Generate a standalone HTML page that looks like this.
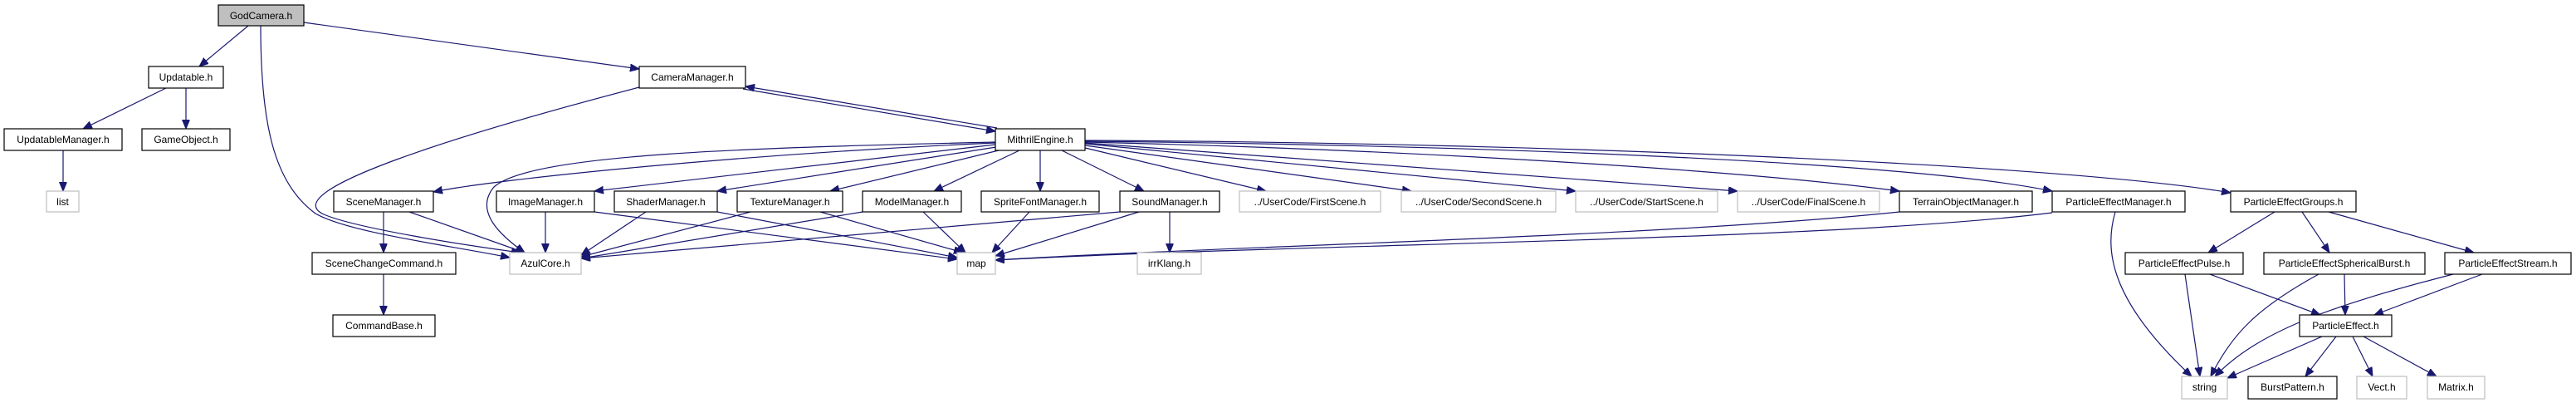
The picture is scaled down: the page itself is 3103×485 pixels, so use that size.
<!DOCTYPE html>
<html><head><meta charset="utf-8"><style>
html,body{margin:0;padding:0;background:#fff;}
svg{display:block;}
text{font-family:"Liberation Sans",Arial,sans-serif;font-size:12px;fill:#000;}
.n{fill:#fff;stroke:#000;stroke-width:1.2;}
.g{fill:#fff;stroke:#bfbfbf;stroke-width:1.2;}
.r{fill:#bfbfbf;stroke:#000;stroke-width:1.2;}
.e{fill:none;stroke:#191970;stroke-width:1.2;marker-end:url(#a);}
</style></head><body>
<svg width="3103" height="485" viewBox="0 0 3103 485" xmlns="http://www.w3.org/2000/svg">
<defs><marker id="a" markerUnits="userSpaceOnUse" markerWidth="12" markerHeight="10" refX="11" refY="4.5" orient="auto"><path d="M0,0 L11,4.5 L0,9 z" fill="#191970" stroke="#191970"/></marker></defs>

<!-- edges -->
<path class="e" d="M299,31 L240,80"/>
<path class="e" d="M314,31 C314,150 330,220 380,257 C420,280 540,295 614,310"/>
<path class="e" d="M366,27 L770,83"/>
<path class="e" d="M200,106 L100,155"/>
<path class="e" d="M224,106 L224,155"/>
<path class="e" d="M76,181 L76,230"/>
<path class="e" d="M770,105 C560,160 330,230 390,258 C430,275 560,295 627,304"/>
<path class="e" d="M895,107 L1199,158"/>
<path class="e" d="M1201,154 L898,104"/>
<path class="e" d="M1199,172 C900,185 600,215 522,231"/>
<path class="e" d="M1199,171 C900,178 640,185 595,225 C570,255 605,285 632,304"/>
<path class="e" d="M1199,174 L716,230"/>
<path class="e" d="M1200,177 L864,230"/>
<path class="e" d="M1203,181 L1000,230"/>
<path class="e" d="M1228,181 L1125,230"/>
<path class="e" d="M1253,181 L1253,230"/>
<path class="e" d="M1279,181 L1378,230"/>
<path class="e" d="M1307,178 L1525,230"/>
<path class="e" d="M1307,175 L1700,230"/>
<path class="e" d="M1307,173 L1898,230"/>
<path class="e" d="M1307,172 L2093,230"/>
<path class="e" d="M1307,171 C1700,180 2100,205 2288,230"/>
<path class="e" d="M1307,170 C1800,175 2300,195 2472,230"/>
<path class="e" d="M1307,169 C1900,172 2500,200 2687,232"/>
<path class="e" d="M2288,255 C2000,285 1500,295 1199,313"/>
<path class="e" d="M2472,256 C2200,290 1600,292 1199,313"/>
<path class="e" d="M462,255 L462,304"/>
<path class="e" d="M493,255 L632,304"/>
<path class="e" d="M462,330 L462,379"/>
<path class="e" d="M657,255 L657,304"/>
<path class="e" d="M716,255 L1153,312"/>
<path class="e" d="M778,255 L700,307"/>
<path class="e" d="M864,255 L1153,310"/>
<path class="e" d="M904,255 L700,309"/>
<path class="e" d="M988,255 L1160,304"/>
<path class="e" d="M1039,255 L700,311"/>
<path class="e" d="M1112,255 L1163,304"/>
<path class="e" d="M1240,255 L1195,304"/>
<path class="e" d="M1372,255 L1199,308"/>
<path class="e" d="M1409,255 L1409,304"/>
<path class="e" d="M1349,255 L700,311"/>
<path class="e" d="M2548,255 C2535,300 2540,360 2640,453"/>
<path class="e" d="M2740,255 L2660,304"/>
<path class="e" d="M2773,255 L2806,304"/>
<path class="e" d="M2805,255 L2980,304"/>
<path class="e" d="M2632,330 L2650,453"/>
<path class="e" d="M2662,330 L2795,379"/>
<path class="e" d="M2793,330 C2720,370 2690,400 2663,453"/>
<path class="e" d="M2824,330 L2825,379"/>
<path class="e" d="M2955,330 C2800,370 2720,400 2668,453"/>
<path class="e" d="M2990,330 L2860,379"/>
<path class="e" d="M2797,405 L2683,455"/>
<path class="e" d="M2814,405 L2777,453"/>
<path class="e" d="M2834,405 L2858,453"/>
<path class="e" d="M2847,405 L2935,453"/>

<!-- nodes -->
<g>
<rect class="r" x="263" y="6" width="103" height="25"/><text x="314.5" y="23" text-anchor="middle">GodCamera.h</text>
<rect class="n" x="179" y="80" width="90" height="26"/><text x="224" y="97" text-anchor="middle">Updatable.h</text>
<rect class="n" x="5" y="155" width="142" height="26"/><text x="76" y="172" text-anchor="middle">UpdatableManager.h</text>
<rect class="n" x="171" y="155" width="106" height="26"/><text x="224" y="172" text-anchor="middle">GameObject.h</text>
<rect class="g" x="56" y="230" width="39" height="25"/><text x="75.5" y="247" text-anchor="middle">list</text>
<rect class="n" x="770" y="80" width="128" height="26"/><text x="834" y="97" text-anchor="middle">CameraManager.h</text>
<rect class="n" x="1199" y="155" width="108" height="26"/><text x="1253" y="172" text-anchor="middle">MithrilEngine.h</text>
<rect class="n" x="402" y="230" width="120" height="25"/><text x="462" y="247" text-anchor="middle">SceneManager.h</text>
<rect class="n" x="598" y="230" width="118" height="25"/><text x="657" y="247" text-anchor="middle">ImageManager.h</text>
<rect class="n" x="740" y="230" width="124" height="25"/><text x="802" y="247" text-anchor="middle">ShaderManager.h</text>
<rect class="n" x="888" y="230" width="127" height="25"/><text x="951.5" y="247" text-anchor="middle">TextureManager.h</text>
<rect class="n" x="1039" y="230" width="119" height="25"/><text x="1098.5" y="247" text-anchor="middle">ModelManager.h</text>
<rect class="n" x="1182" y="230" width="142" height="25"/><text x="1253" y="247" text-anchor="middle">SpriteFontManager.h</text>
<rect class="n" x="1349" y="230" width="120" height="25"/><text x="1409" y="247" text-anchor="middle">SoundManager.h</text>
<rect class="g" x="1493" y="230" width="170" height="25"/><text x="1578" y="247" text-anchor="middle">../UserCode/FirstScene.h</text>
<rect class="g" x="1688" y="230" width="186" height="25"/><text x="1781" y="247" text-anchor="middle">../UserCode/SecondScene.h</text>
<rect class="g" x="1898" y="230" width="171" height="25"/><text x="1983.5" y="247" text-anchor="middle">../UserCode/StartScene.h</text>
<rect class="g" x="2093" y="230" width="171" height="25"/><text x="2178.5" y="247" text-anchor="middle">../UserCode/FinalScene.h</text>
<rect class="n" x="2288" y="230" width="160" height="25"/><text x="2368" y="247" text-anchor="middle">TerrainObjectManager.h</text>
<rect class="n" x="2472" y="230" width="160" height="25"/><text x="2552" y="247" text-anchor="middle">ParticleEffectManager.h</text>
<rect class="n" x="2687" y="230" width="151" height="25"/><text x="2762.5" y="247" text-anchor="middle">ParticleEffectGroups.h</text>
<rect class="n" x="376" y="304" width="173" height="26"/><text x="462.5" y="321" text-anchor="middle">SceneChangeCommand.h</text>
<rect class="g" x="614" y="304" width="86" height="26"/><text x="657" y="321" text-anchor="middle">AzulCore.h</text>
<rect class="g" x="1153" y="304" width="46" height="26"/><text x="1176" y="321" text-anchor="middle">map</text>
<rect class="g" x="1370" y="304" width="77" height="26"/><text x="1408.5" y="321" text-anchor="middle">irrKlang.h</text>
<rect class="n" x="2560" y="304" width="142" height="26"/><text x="2631" y="321" text-anchor="middle">ParticleEffectPulse.h</text>
<rect class="n" x="2727" y="304" width="194" height="26"/><text x="2824" y="321" text-anchor="middle">ParticleEffectSphericalBurst.h</text>
<rect class="n" x="2945" y="304" width="152" height="26"/><text x="3021" y="321" text-anchor="middle">ParticleEffectStream.h</text>
<rect class="n" x="401" y="379" width="123" height="26"/><text x="462.5" y="396" text-anchor="middle">CommandBase.h</text>
<rect class="n" x="2770" y="379" width="111" height="26"/><text x="2825.5" y="396" text-anchor="middle">ParticleEffect.h</text>
<rect class="g" x="2628" y="453" width="55" height="27"/><text x="2655.5" y="470" text-anchor="middle">string</text>
<rect class="n" x="2708" y="453" width="107" height="27"/><text x="2761.5" y="470" text-anchor="middle">BurstPattern.h</text>
<rect class="g" x="2839" y="453" width="60" height="27"/><text x="2869" y="470" text-anchor="middle">Vect.h</text>
<rect class="g" x="2924" y="453" width="69" height="27"/><text x="2958.5" y="470" text-anchor="middle">Matrix.h</text>
</g>
</svg>
</body></html>
